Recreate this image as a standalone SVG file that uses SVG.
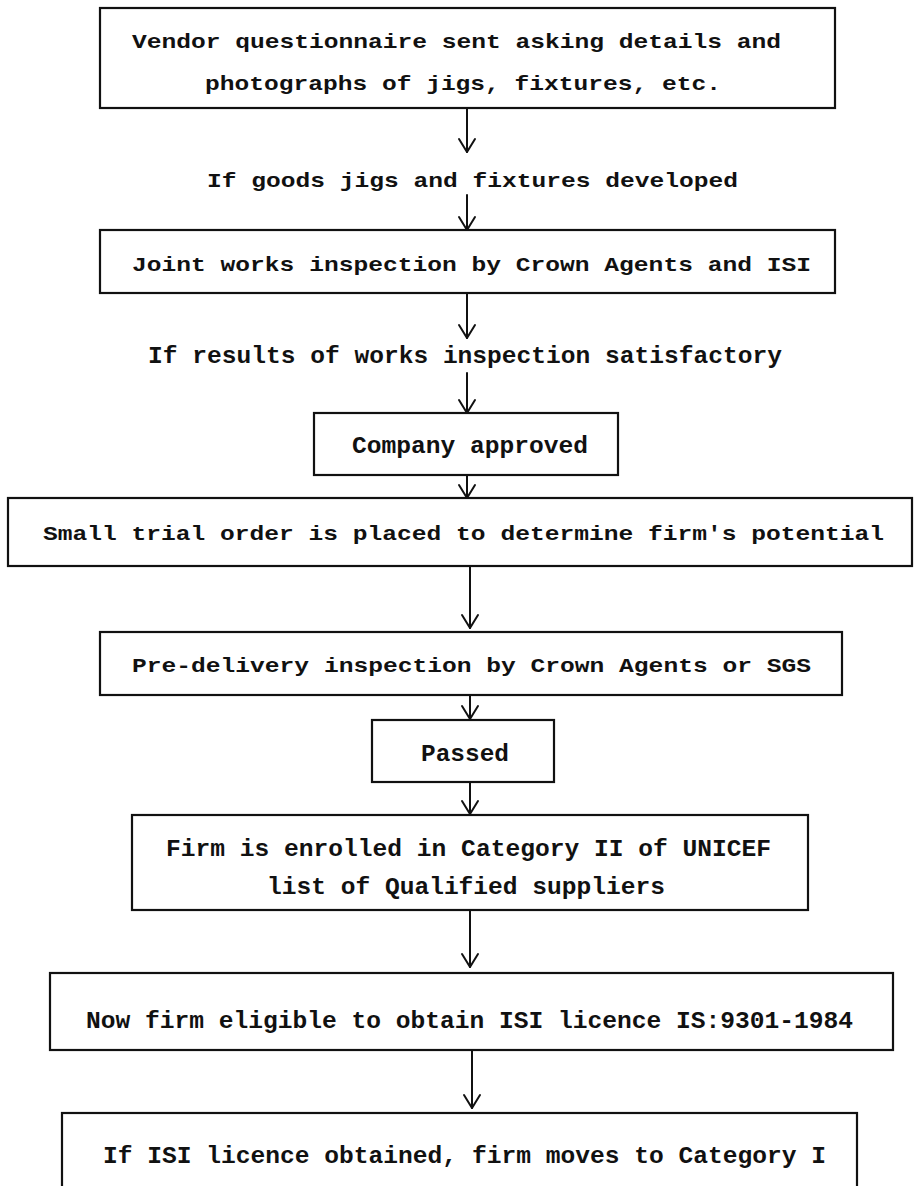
<svg xmlns="http://www.w3.org/2000/svg" width="915" height="1186" viewBox="0 0 915 1186">
<defs>
<style>
.box{fill:none;stroke:#111;stroke-width:2.2}
.t{font-family:"Liberation Mono","DejaVu Sans Mono",monospace;font-size:21px;font-weight:bold;fill:#111}
.n{font-family:"Liberation Mono","DejaVu Sans Mono",monospace;font-size:24px;font-weight:bold;fill:#111}
.c{fill:none;stroke:#111;stroke-width:2;stroke-linecap:round;stroke-linejoin:round}
</style>
<marker id="ah" viewBox="-12 -16 24 18" refX="0" refY="0" markerWidth="24" markerHeight="18" markerUnits="userSpaceOnUse" orient="0">
<path d="M-8,-13 L0,0 L8,-13" fill="none" stroke="#111" stroke-width="2" stroke-linecap="round" stroke-linejoin="round"/>
</marker>
</defs>
<rect width="915" height="1186" fill="#fff"/>
<g id="connectors">
<line class="c" x1="467" y1="108" x2="467" y2="152" marker-end="url(#ah)"/>
<line class="c" x1="467" y1="195" x2="467" y2="230" marker-end="url(#ah)"/>
<line class="c" x1="467" y1="293" x2="467" y2="338" marker-end="url(#ah)"/>
<line class="c" x1="467" y1="373" x2="467" y2="413" marker-end="url(#ah)"/>
<line class="c" x1="467" y1="475" x2="467" y2="498" marker-end="url(#ah)"/>
<line class="c" x1="470" y1="566" x2="470" y2="628" marker-end="url(#ah)"/>
<line class="c" x1="470" y1="695" x2="470" y2="719" marker-end="url(#ah)"/>
<line class="c" x1="470" y1="782" x2="470" y2="814" marker-end="url(#ah)"/>
<line class="c" x1="470" y1="910" x2="470" y2="967" marker-end="url(#ah)"/>
<line class="c" x1="472" y1="1050" x2="472" y2="1108" marker-end="url(#ah)"/>
</g>
<g id="n1">
<rect class="box" x="100" y="8" width="735" height="100"/>
<text class="t" x="132" y="48" textLength="649" lengthAdjust="spacingAndGlyphs">Vendor questionnaire sent asking details and</text>
<text class="t" x="205" y="90" textLength="516" lengthAdjust="spacingAndGlyphs">photographs of jigs, fixtures, etc.</text>
</g>
<g id="n2">
<text class="t" x="207" y="187" textLength="531" lengthAdjust="spacingAndGlyphs">If goods jigs and fixtures developed</text>
</g>
<g id="n3">
<rect class="box" x="100" y="230" width="735" height="63"/>
<text class="t" x="132" y="271" textLength="679" lengthAdjust="spacingAndGlyphs">Joint works inspection by Crown Agents and ISI</text>
</g>
<g id="n4">
<text class="n" x="148" y="363" textLength="634" lengthAdjust="spacingAndGlyphs">If results of works inspection satisfactory</text>
</g>
<g id="n5">
<rect class="box" x="314" y="413" width="304" height="62"/>
<text class="n" x="352" y="453" textLength="236" lengthAdjust="spacingAndGlyphs">Company approved</text>
</g>
<g id="n6">
<rect class="box" x="8" y="498" width="904" height="68"/>
<text class="t" x="43" y="540" textLength="841" lengthAdjust="spacingAndGlyphs">Small trial order is placed to determine firm's potential</text>
</g>
<g id="n7">
<rect class="box" x="100" y="632" width="742" height="63"/>
<text class="t" x="132" y="672" textLength="679" lengthAdjust="spacingAndGlyphs">Pre-delivery inspection by Crown Agents or SGS</text>
</g>
<g id="n8">
<rect class="box" x="372" y="720" width="182" height="62"/>
<text class="n" x="421" y="761" textLength="88" lengthAdjust="spacingAndGlyphs">Passed</text>
</g>
<g id="n9">
<rect class="box" x="132" y="815" width="676" height="95"/>
<text class="n" x="166" y="856" textLength="605" lengthAdjust="spacingAndGlyphs">Firm is enrolled in Category II of UNICEF</text>
<text class="n" x="267" y="894" textLength="398" lengthAdjust="spacingAndGlyphs">list of Qualified suppliers</text>
</g>
<g id="n10">
<rect class="box" x="50" y="973" width="843" height="77"/>
<text class="n" x="86" y="1028" textLength="767" lengthAdjust="spacingAndGlyphs">Now firm eligible to obtain ISI licence IS:9301-1984</text>
</g>
<g id="n11">
<rect class="box" x="62" y="1113" width="795" height="90"/>
<text class="n" x="103" y="1163" textLength="723" lengthAdjust="spacingAndGlyphs">If ISI licence obtained, firm moves to Category I</text>
</g>
</svg>
